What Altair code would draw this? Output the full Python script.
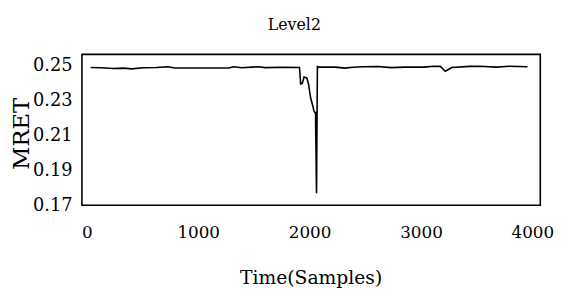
import altair as alt
import pandas as pd

# Time (samples) and MRET values
samples = [35, 124, 239, 330, 404, 507, 625, 729, 788, 1274, 1319, 1392, 1540, 1599, 1776, 1909,
           1920, 1935, 1950, 1975, 1990, 2009, 2023, 2038, 2047, 2053, 2062, 2070,
           2080, 2230, 2319, 2363, 2466, 2614, 2732, 2850, 3027, 3115, 3174, 3218, 3277,
           3440, 3528, 3675, 3794, 3956]
mret = [0.2490, 0.2488, 0.2484, 0.2486, 0.2482, 0.2488, 0.2490, 0.2494, 0.2487, 0.2487, 0.2494,
        0.2488, 0.2494, 0.2489, 0.2491, 0.2490,
        0.2395, 0.2400, 0.2435, 0.2430, 0.2395, 0.2316, 0.2283, 0.2243, 0.2232, 0.2232, 0.1768, 0.2495,
        0.2492, 0.2492, 0.2486, 0.2490, 0.2494, 0.2495, 0.2489, 0.2492, 0.2492, 0.2497, 0.2496,
        0.2468, 0.2490, 0.2496, 0.2497, 0.2492, 0.2497, 0.2494]

x_ticks = [0, 1000, 2000, 3000, 4000]
y_ticks = [0.17, 0.19, 0.21, 0.23, 0.25]

df = pd.DataFrame({"t": samples, "m": mret})

FONT = "DejaVu Serif"

chart = alt.Chart(df).mark_line(color="black", strokeWidth=1.6).encode(
    x=alt.X("t:Q",
            scale=alt.Scale(domain=[-44, 4071], nice=False, zero=False),
            axis=alt.Axis(values=x_ticks, title="Time(Samples)", grid=False, domain=False,
                          ticks=False, tickSize=0, labelPadding=20, labelFontSize=17,
                          labelFont=FONT, labelColor="black", labelFlush=False,
                          labelOverlap=False, format="d", titleFont=FONT, titleFontSize=19,
                          titleFontWeight="normal", titleColor="black",
                          titleX=232, titleY=73, titleAlign="center",
                          titleBaseline="middle")),
    y=alt.Y("m:Q",
            scale=alt.Scale(domain=[0.17, 0.2565], nice=False, zero=False),
            axis=alt.Axis(values=y_ticks, title="MRET", grid=False, domain=False,
                          ticks=False, tickSize=0, labelPadding=10, labelFontSize=18,
                          labelFont=FONT, labelColor="black", labelFlush=False,
                          labelOverlap=False, format=".2f", titleFont=FONT,
                          titleFontSize=23, titleFontWeight="normal", titleColor="black",
                          titleAngle=270, titleX=-61, titleY=80, titleAlign="center",
                          titleBaseline="middle")),
).properties(
    width=465,
    height=153,
    padding={"left": 75, "top": 45, "right": 20, "bottom": 84},
    autosize=alt.AutoSizeParams(type="none"),
    title=alt.TitleParams("Level2", font=FONT, fontSize=16, fontWeight="normal",
                          color="black", anchor="middle", dx=-17, offset=9,
                          baseline="alphabetic"),
).configure(
    background="white"
).configure_view(
    stroke="black", strokeWidth=1.6
)

chart.save("out.html", embed_options={"renderer": "svg", "actions": False})
